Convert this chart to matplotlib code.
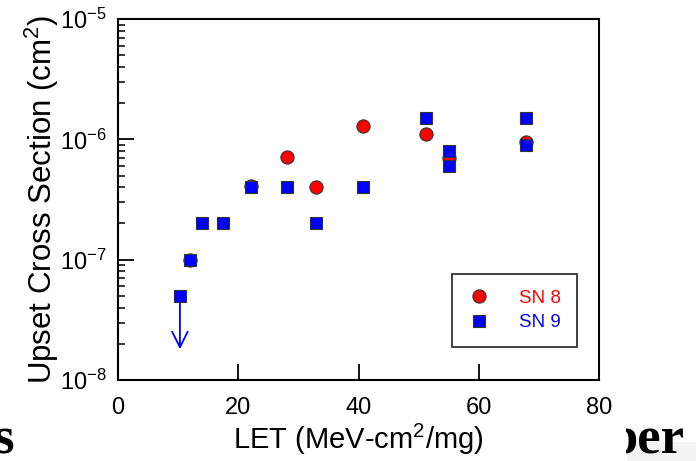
import numpy as np
import matplotlib.pyplot as plt
from matplotlib.ticker import LogLocator, FixedLocator, FuncFormatter, NullFormatter
from matplotlib.patches import Rectangle

plt.rcParams['font.family'] = ['Liberation Sans', 'DejaVu Sans']
plt.rcParams['mathtext.fontset'] = 'custom'
plt.rcParams['mathtext.rm'] = 'Liberation Sans'
plt.rcParams['mathtext.it'] = 'Liberation Sans:italic'

# data
sn8_let = [12.0, 22.1, 28.1, 32.9, 40.8, 51.2, 55.0, 67.8]
sn8_xs = [1.0e-7, 4.1e-7, 7.1e-7, 4.0e-7, 1.3e-6, 1.1e-6, 7.0e-7, 9.5e-7]

sn9_let = [10.3, 12.0, 14.0, 17.5, 22.1, 28.1, 32.9, 40.8, 51.2, 55.0, 55.0, 67.8, 67.8]
sn9_xs = [5.0e-8, 1.0e-7, 2.0e-7, 2.0e-7, 4.0e-7, 4.0e-7, 2.0e-7, 4.0e-7, 1.5e-6,
          8.0e-7, 6.0e-7, 1.5e-6, 9.0e-7]

# upper limit arrow on the lowest point
limit_let = 10.3
limit_from = 5.0e-8
limit_to = 1.8e-8

fig = plt.figure(figsize=(6.96, 4.61), dpi=100)
ax = fig.add_axes([118/696, 1 - 380/461, (599-118)/696, (380-19)/461])

ax.plot(sn8_let, sn8_xs, 'o', color='red', mec='#333333', mew=0.8, ms=9.5,
        linestyle='none', label='SN 8', zorder=3)
ax.plot(sn9_let, sn9_xs, 's', color='blue', mec='#333333', mew=0.8, ms=8.3,
        linestyle='none', label='SN 9', zorder=4)

ax.annotate('', xy=(limit_let, limit_to), xytext=(limit_let, limit_from),
            arrowprops=dict(arrowstyle='->', color='blue', lw=1.3,
                            mutation_scale=28, shrinkA=5, shrinkB=0), zorder=2)

ax.set_yscale('log')
ax.set_xlim(0, 80)
ax.set_ylim(1e-8, 1e-5)

ax.xaxis.set_major_locator(FixedLocator([0, 20, 40, 60, 80]))
ax.yaxis.set_major_locator(LogLocator(base=10))
ax.yaxis.set_minor_locator(LogLocator(base=10, subs=np.arange(2, 10)))
ax.yaxis.set_minor_formatter(NullFormatter())
ax.yaxis.set_major_formatter(FuncFormatter(lambda v, p: r'$10^{%d}$' % round(np.log10(v))))

ax.tick_params(axis='both', which='major', direction='in', length=11.5, width=1.3,
               labelsize=17, pad=8)
ax.tick_params(axis='x', which='major', pad=12)
ax.tick_params(axis='y', which='minor', direction='in', length=5, width=1.1)
ax.tick_params(top=False, right=False, which='both')
for s in ax.spines.values():
    s.set_linewidth(1.5)

ax.set_xlabel(r'LET (MeV-cm$^2$/mg)', fontsize=21, labelpad=2)
ax.set_ylabel(r'Upset Cross Section (cm$^2$)', fontsize=22.5)
ax.yaxis.set_label_coords(-0.119, 0.5)

leg = ax.legend(loc='upper left', bbox_to_anchor=(0.695, 0.295), fontsize=13.5,
                frameon=True, fancybox=False, edgecolor='black', borderpad=0.85,
                handletextpad=1.5, labelspacing=0.4, borderaxespad=0, handlelength=1.2)
leg.get_frame().set_linewidth(1.3)
for t, c in zip(leg.get_texts(), ['red', 'blue']):
    t.set_color(c)

# bits of the slide title showing behind the chart
fig.patches.append(Rectangle((627/696, 0), 1, 1 - 442/461, transform=fig.transFigure,
                             facecolor='#f4f4f4', edgecolor='none', zorder=0))
fig.text(14/696, 1 - 453/461, 's', ha='right', va='baseline', fontsize=38,
         family='Liberation Serif', weight='bold')
fig.text(684/696, 1 - 453/461, 'per', ha='right', va='baseline', fontsize=38,
         family='Liberation Serif', weight='bold')
fig.patches.append(Rectangle((600/696, 0), 26/696, 40/461, transform=fig.transFigure,
                             facecolor='white', edgecolor='none', zorder=5))

fig.savefig('out.png', dpi=100)
